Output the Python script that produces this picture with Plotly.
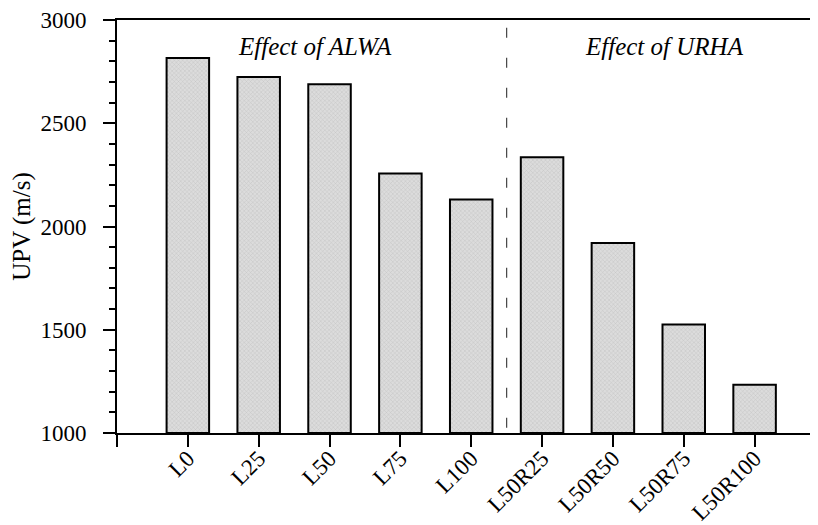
import plotly.graph_objects as go

categories = ["L0", "L25", "L50", "L75", "L100", "L50R25", "L50R50", "L50R75", "L50R100"]
upv = [2816, 2724, 2689, 2257, 2131, 2335, 1920, 1526, 1234]
y_ticks = [1000, 1500, 2000, 2500, 3000]
group_labels = ["Effect of ALWA", "Effect of URHA"]

xpos = list(range(len(categories)))
FONT = "Liberation Serif, Times New Roman, serif"

fig = go.Figure()
fig.add_trace(go.Bar(
    x=xpos, y=[v - 1000 for v in upv], base=1000, width=0.6,
    marker=dict(
        color="#dadada",
        line=dict(color="black", width=2),
        pattern=dict(shape="x", size=3, fgcolor="#a0a0a0", bgcolor="#dcdcdc", solidity=0.25),
    ),
    showlegend=False,
))

fig.add_shape(type="line", x0=4.5, x1=4.5, y0=2963, y1=1000, xref="x", yref="y",
              line=dict(color="#444444", width=1.2, dash="10px,20px"))

fig.add_annotation(x=1.79, y=2870, text="<i>" + group_labels[0] + "</i>", showarrow=False,
                   font=dict(family=FONT, size=25, color="black"), xref="x", yref="y")
fig.add_annotation(x=6.73, y=2870, text="<i>" + group_labels[1] + "</i>", showarrow=False,
                   font=dict(family=FONT, size=25, color="black"), xref="x", yref="y")

# page body has an 8px default margin, so the figure is sized to fill the rest
fig.update_layout(
    width=810, height=517,
    margin=dict(l=109, r=0, t=12, b=92),
    paper_bgcolor="white", plot_bgcolor="white",
    font=dict(family=FONT, size=23, color="black"),
    bargap=0.4,
)
fig.update_xaxes(
    range=[-1, 8.895],
    tickvals=[-1] + xpos, ticktext=[""] + categories,
    tickangle=-45,
    ticks="outside", ticklen=12, tickwidth=2, tickcolor="black",
    showline=True, linewidth=2, linecolor="black", mirror=True,
    showgrid=False, zeroline=False, automargin=False,
    ticklabelstandoff=-11,
    tickfont=dict(family=FONT, size=23),
)
fig.update_yaxes(
    range=[1000, 3000],
    tickvals=y_ticks,
    ticks="outside", ticklen=12, tickwidth=2, tickcolor="black",
    minor=dict(dtick=100, ticks="outside", ticklen=6, tickwidth=2, tickcolor="black", showgrid=False),
    showline=True, linewidth=2, linecolor="black",
    showgrid=False, zeroline=False, automargin=False,
    ticklabelstandoff=12,
    title=dict(text="UPV (m/s)", font=dict(family=FONT, size=25), standoff=6),
    tickfont=dict(family=FONT, size=23),
)

fig.write_html("out.html")
